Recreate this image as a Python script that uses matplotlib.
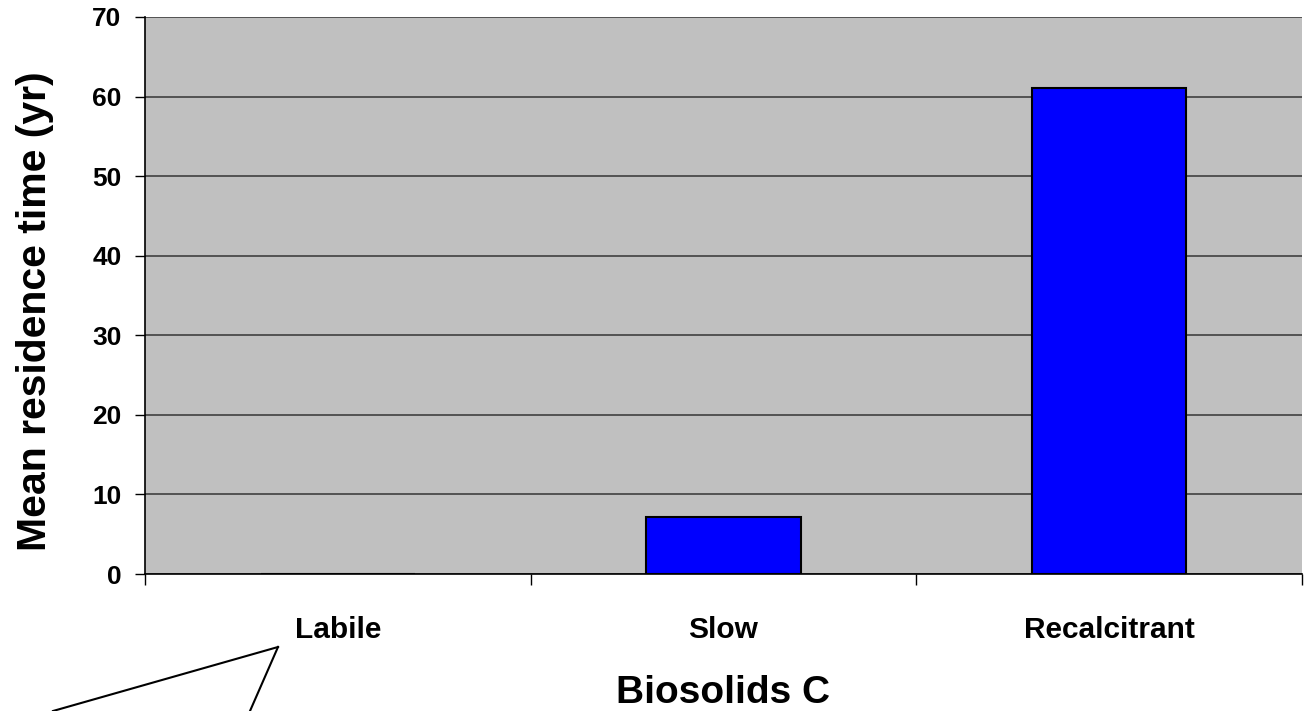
import numpy as np
import matplotlib.pyplot as plt
from matplotlib.lines import Line2D

plt.rcParams['font.family'] = ['Liberation Sans', 'DejaVu Sans']
plt.rcParams['font.weight'] = 'bold'

# пулы углерода и время пребывания
categories = ['Labile', 'Slow', 'Recalcitrant']
residence_time = [0.0, 7.2, 61.1]
y_ticks = [0, 10, 20, 30, 40, 50, 60, 70]

fig = plt.figure(figsize=(13.07, 7.11), dpi=100)
ax = fig.add_axes([145 / 1307, 1 - 574 / 711, (1302 - 145) / 1307, (574 - 17) / 711])
ax.set_facecolor('#c0c0c0')

x = np.arange(len(categories))
ax.bar(x, residence_time, width=0.4, color='#0000ff', edgecolor='black', linewidth=1.5, zorder=3)

ax.set_xlim(-0.5, len(categories) - 0.5)
ax.set_ylim(0, 70)
ax.set_yticks(y_ticks)
ax.set_yticklabels([str(v) for v in y_ticks], fontsize=19, fontweight='bold')
ax.yaxis.grid(True, color='#404040', linewidth=1.2, zorder=0)

# деления по границам категорий, подписи по центрам
ax.set_xticks(np.arange(-0.5, len(categories), 1.0))
ax.set_xticklabels([])
ax.set_xticks(x, minor=True)
ax.set_xticklabels(categories, minor=True, fontsize=21.5, fontweight='bold')
ax.tick_params(axis='x', which='minor', length=0, pad=30)
ax.tick_params(axis='x', which='major', length=8, direction='out', width=1)
ax.tick_params(axis='y', length=7, direction='out', width=1, pad=10)

for side in ['top', 'right']:
    ax.spines[side].set_visible(False)
ax.spines['left'].set_linewidth(1.2)
ax.spines['bottom'].set_linewidth(1.2)

ax.set_ylabel('Mean residence time (yr)', fontsize=29.5, fontweight='bold')
ax.yaxis.set_label_coords(-0.095, 0.472)
ax.yaxis.label.set_va('center')
ax.set_xlabel('Biosolids C', fontsize=28, fontweight='bold')
ax.xaxis.set_label_coords(0.5, -0.181)

# выноска внизу слева
fig.add_artist(Line2D([53 / 1307, 278 / 1307], [0.0, 1 - 647 / 711],
                      transform=fig.transFigure, color='black', linewidth=1.5))
fig.add_artist(Line2D([278 / 1307, 250 / 1307], [1 - 647 / 711, 0.0],
                      transform=fig.transFigure, color='black', linewidth=1.5))

fig.savefig('out.png', dpi=100)
